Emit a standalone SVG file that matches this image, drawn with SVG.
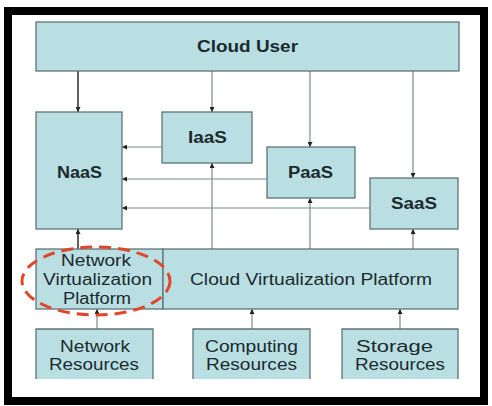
<svg xmlns="http://www.w3.org/2000/svg" width="492" height="406" viewBox="0 0 492 406">
<defs>
<style>
.box{fill:#b9dfe3;stroke:#5d7478;stroke-width:1.3}
.t{font-family:"Liberation Sans",Arial,sans-serif;font-size:16px;fill:#1c2a2e;text-anchor:middle}
.b{font-weight:bold}
.c{stroke:#7d8b8d;stroke-width:1.2;fill:none}
.d{stroke:#3a3a3a;stroke-width:1.6;fill:none}
</style>
<marker id="ah" viewBox="0 0 10 10" refX="10" refY="5" markerWidth="5" markerHeight="5" orient="auto" markerUnits="userSpaceOnUse">
<path d="M0,0 L10,5 L0,10 z" fill="#222"/>
</marker>
</defs>
<rect x="0" y="0" width="492" height="406" fill="#fff"/>
<rect x="8" y="11" width="476" height="390" fill="#fff" stroke="#000" stroke-width="8"/>
<g id="connectors">
<line class="d" x1="78" y1="71" x2="78" y2="112" marker-end="url(#ah)"/>
<line class="c" x1="212" y1="71" x2="212" y2="112" marker-end="url(#ah)"/>
<line class="c" x1="310" y1="71" x2="310" y2="147" marker-end="url(#ah)"/>
<line class="c" x1="413" y1="71" x2="413" y2="178" marker-end="url(#ah)"/>
<line class="c" x1="162" y1="147" x2="122" y2="147" marker-end="url(#ah)"/>
<line class="c" x1="267" y1="179" x2="122" y2="179" marker-end="url(#ah)"/>
<line class="c" x1="370" y1="208" x2="122" y2="208" marker-end="url(#ah)"/>
<line class="c" x1="212" y1="249" x2="212" y2="163" marker-end="url(#ah)"/>
<line class="c" x1="310" y1="249" x2="310" y2="198" marker-end="url(#ah)"/>
<line class="c" x1="413" y1="249" x2="413" y2="229" marker-end="url(#ah)"/>
<line class="d" x1="78" y1="249" x2="78" y2="229" marker-end="url(#ah)"/>
<line class="c" x1="97" y1="329" x2="97" y2="309" marker-end="url(#ah)"/>
<line class="c" x1="252" y1="329" x2="252" y2="309" marker-end="url(#ah)"/>
<line class="c" x1="400" y1="329" x2="400" y2="309" marker-end="url(#ah)"/>
</g>
<g id="cloud-user">
<rect class="box" x="36" y="22" width="423" height="49"/>
<text class="t b" x="247.5" y="52" textLength="101" lengthAdjust="spacingAndGlyphs">Cloud User</text>
</g>
<g id="naas">
<rect class="box" x="36" y="112" width="86" height="117"/>
<text class="t b" x="79.5" y="178" textLength="45" lengthAdjust="spacingAndGlyphs">NaaS</text>
</g>
<g id="iaas">
<rect class="box" x="162" y="112" width="90" height="51"/>
<text class="t b" x="207.5" y="143" textLength="39" lengthAdjust="spacingAndGlyphs">IaaS</text>
</g>
<g id="paas">
<rect class="box" x="267" y="147" width="88" height="51"/>
<text class="t b" x="310.5" y="178" textLength="45" lengthAdjust="spacingAndGlyphs">PaaS</text>
</g>
<g id="saas">
<rect class="box" x="370" y="178" width="88" height="51"/>
<text class="t b" x="414" y="209" textLength="46" lengthAdjust="spacingAndGlyphs">SaaS</text>
</g>
<g id="network-virtualization-platform">
<rect class="box" x="36" y="249" width="127" height="60"/>
<text class="t" x="96" y="266" textLength="70" lengthAdjust="spacingAndGlyphs">Network</text>
<text class="t" x="97.5" y="285" textLength="109" lengthAdjust="spacingAndGlyphs">Virtualization</text>
<text class="t" x="97" y="304" textLength="68" lengthAdjust="spacingAndGlyphs">Platform</text>
</g>
<g id="cloud-virtualization-platform">
<rect class="box" x="163" y="249" width="295" height="60"/>
<text class="t" x="311" y="285" textLength="242" lengthAdjust="spacingAndGlyphs">Cloud Virtualization Platform</text>
</g>
<g id="highlight">
<ellipse cx="96" cy="281" rx="74" ry="34" fill="none" stroke="#e2462a" stroke-width="3" stroke-dasharray="12 7"/>
</g>
<g id="network-resources">
<path class="box" d="M36,379 V329 H153 V379" />
<text class="t" x="95" y="352" textLength="70" lengthAdjust="spacingAndGlyphs">Network</text>
<text class="t" x="94" y="370" textLength="90" lengthAdjust="spacingAndGlyphs">Resources</text>
</g>
<g id="computing-resources">
<path class="box" d="M193,379 V329 H310 V379"/>
<text class="t" x="251.5" y="352" textLength="93" lengthAdjust="spacingAndGlyphs">Computing</text>
<text class="t" x="251.5" y="370" textLength="91" lengthAdjust="spacingAndGlyphs">Resources</text>
</g>
<g id="storage-resources">
<path class="box" d="M342,379 V329 H458 V379"/>
<text class="t" x="394.5" y="352" textLength="77" lengthAdjust="spacingAndGlyphs">Storage</text>
<text class="t" x="400" y="370" textLength="90" lengthAdjust="spacingAndGlyphs">Resources</text>
</g>
</svg>
